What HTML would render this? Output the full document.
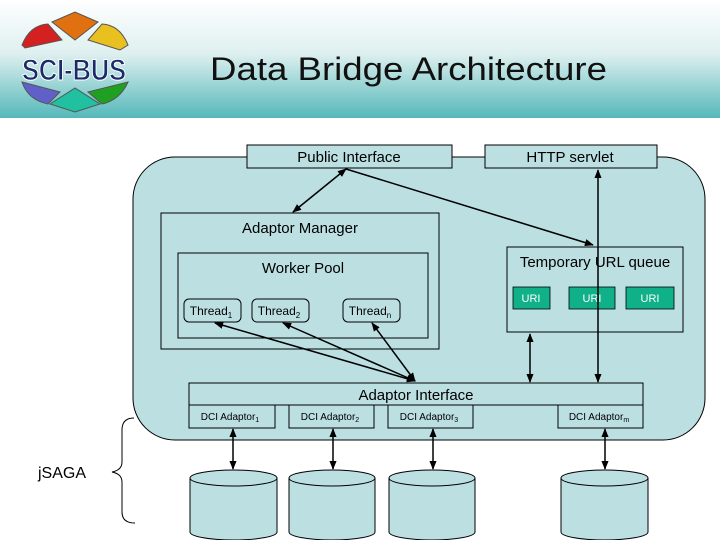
<!DOCTYPE html>
<html><head><meta charset="utf-8"><style>body{margin:0;width:720px;height:540px;overflow:hidden;background:#fff}</style></head><body>
<svg width="720" height="540" xmlns="http://www.w3.org/2000/svg" font-family="Liberation Sans, sans-serif">
<defs>
<linearGradient id="hg" x1="0" y1="0" x2="0" y2="1"><stop offset="0" stop-color="#ffffff"/><stop offset="0.45" stop-color="#dff0f0"/><stop offset="1" stop-color="#55b8ba"/></linearGradient>
<marker id="a" viewBox="0 0 10 10" refX="9" refY="5" markerWidth="6" markerHeight="6" orient="auto-start-reverse"><path d="M0,1 L10,5 L0,9 z" fill="#000"/></marker>
</defs>
<rect x="0" y="0" width="720" height="118" fill="url(#hg)"/>
<g stroke="#555" stroke-width="1">
<path d="M52,22 L75,12 L98,22 L75,40 z" fill="#e07010"/>
<path d="M22,45 Q30,25 48,24 L62,40 L25,48 z" fill="#d42020"/>
<path d="M102,24 Q120,25 128,45 L120,50 L88,40 z" fill="#e8c020"/>
<path d="M22,82 L60,92 L48,104 Q28,100 22,82 z" fill="#6060c8"/>
<path d="M50,104 L75,88 L100,104 L75,112 z" fill="#20c0a0"/>
<path d="M88,92 L128,82 Q120,100 102,104 z" fill="#20a020"/>
</g>
<text x="74" y="80" font-size="30" font-weight="bold" text-anchor="middle" textLength="104" lengthAdjust="spacingAndGlyphs" fill="#1a2a6a" stroke="#fff" stroke-width="1">SCI-BUS</text>
<text x="210" y="80" font-size="32" textLength="397" lengthAdjust="spacingAndGlyphs" fill="#111">Data Bridge Architecture</text>
<rect x="133" y="157" width="572" height="283" rx="42" fill="#bcdfe2" stroke="#000"/>
<g fill="#bcdfe2" stroke="#000" stroke-width="1">
<rect x="247" y="145" width="205" height="23"/>
<rect x="485" y="145" width="172" height="23"/>
<rect x="161" y="213" width="278" height="136"/>
<rect x="178" y="253" width="250" height="85"/>
<rect x="184" y="299" width="57" height="23" rx="5"/>
<rect x="252" y="299" width="57" height="23" rx="5"/>
<rect x="343" y="299" width="57" height="23" rx="5"/>
<rect x="507" y="247" width="176" height="85"/>
<rect x="189" y="383" width="454" height="22"/>
<rect x="189" y="405" width="86" height="23"/>
<rect x="289" y="405" width="85" height="23"/>
<rect x="388" y="405" width="85" height="23"/>
<rect x="558" y="405" width="85" height="23"/>
</g>
<g fill="#10b088" stroke="#000" stroke-width="0.8">
<rect x="513" y="287" width="37" height="22"/>
<rect x="569" y="287" width="46" height="22"/>
<rect x="626" y="287" width="48" height="22"/>
</g>
<g font-size="15" text-anchor="middle" fill="#000">
<text x="349" y="162">Public Interface</text>
<text x="570" y="162">HTTP servlet</text>
<text x="300" y="233">Adaptor Manager</text>
<text x="303" y="273">Worker Pool</text>
<text x="595" y="267">Temporary URL queue</text>
<text x="416" y="400">Adaptor Interface</text>
<text x="62" y="478" font-size="16">jSAGA</text>
</g>
<g font-size="12" text-anchor="middle" fill="#000">
<text x="211" y="315">Thread<tspan font-size="8" dy="3">1</tspan></text>
<text x="279" y="315">Thread<tspan font-size="8" dy="3">2</tspan></text>
<text x="370" y="315">Thread<tspan font-size="8" dy="3">n</tspan></text>
</g>
<g font-size="11" text-anchor="middle" fill="#fff">
<text x="531" y="302">URI</text><text x="592" y="302">URI</text><text x="650" y="302">URI</text>
</g>
<g font-size="10" text-anchor="middle" fill="#000">
<text x="230" y="420">DCI Adaptor<tspan font-size="7" dy="2">1</tspan></text>
<text x="330" y="420">DCI Adaptor<tspan font-size="7" dy="2">2</tspan></text>
<text x="429" y="420">DCI Adaptor<tspan font-size="7" dy="2">3</tspan></text>
<text x="599" y="420">DCI Adaptor<tspan font-size="7" dy="2">m</tspan></text>
</g>
<g stroke="#000" stroke-width="1.5" fill="none" marker-end="url(#a)" marker-start="url(#a)">
<line x1="346" y1="169" x2="293" y2="212"/>
<line x1="598" y1="170" x2="598" y2="382"/>
<line x1="530" y1="334" x2="530" y2="382"/>
<line x1="415" y1="381" x2="215" y2="323"/>
<line x1="415" y1="381" x2="283" y2="323"/>
<line x1="415" y1="381" x2="372" y2="323"/>
<line x1="233" y1="429" x2="233" y2="469"/>
<line x1="333" y1="429" x2="333" y2="469"/>
<line x1="433" y1="429" x2="433" y2="469"/>
<line x1="605" y1="429" x2="605" y2="469"/>
</g>
<line x1="346" y1="169" x2="593" y2="245" stroke="#000" stroke-width="1.5" marker-end="url(#a)"/>
<g fill="#bcdfe2" stroke="#000" stroke-width="1">
<path d="M190,478 L190,532 A43.5,8 0 0 0 277,532 L277,478"/><ellipse cx="233.5" cy="478" rx="43.5" ry="8"/>
<path d="M289,478 L289,532 A43,8 0 0 0 375,532 L375,478"/><ellipse cx="332" cy="478" rx="43" ry="8"/>
<path d="M389,478 L389,532 A43,8 0 0 0 475,532 L475,478"/><ellipse cx="432" cy="478" rx="43" ry="8"/>
<path d="M561,478 L561,532 A43.5,8 0 0 0 648,532 L648,478"/><ellipse cx="604.5" cy="478" rx="43.5" ry="8"/>
</g>
<path d="M134,418 Q122,418 122,430 L122,462 Q122,470 112,472 Q122,474 122,482 L122,512 Q122,523 135,523" stroke="#000" fill="none"/>
</svg>
</body></html>
